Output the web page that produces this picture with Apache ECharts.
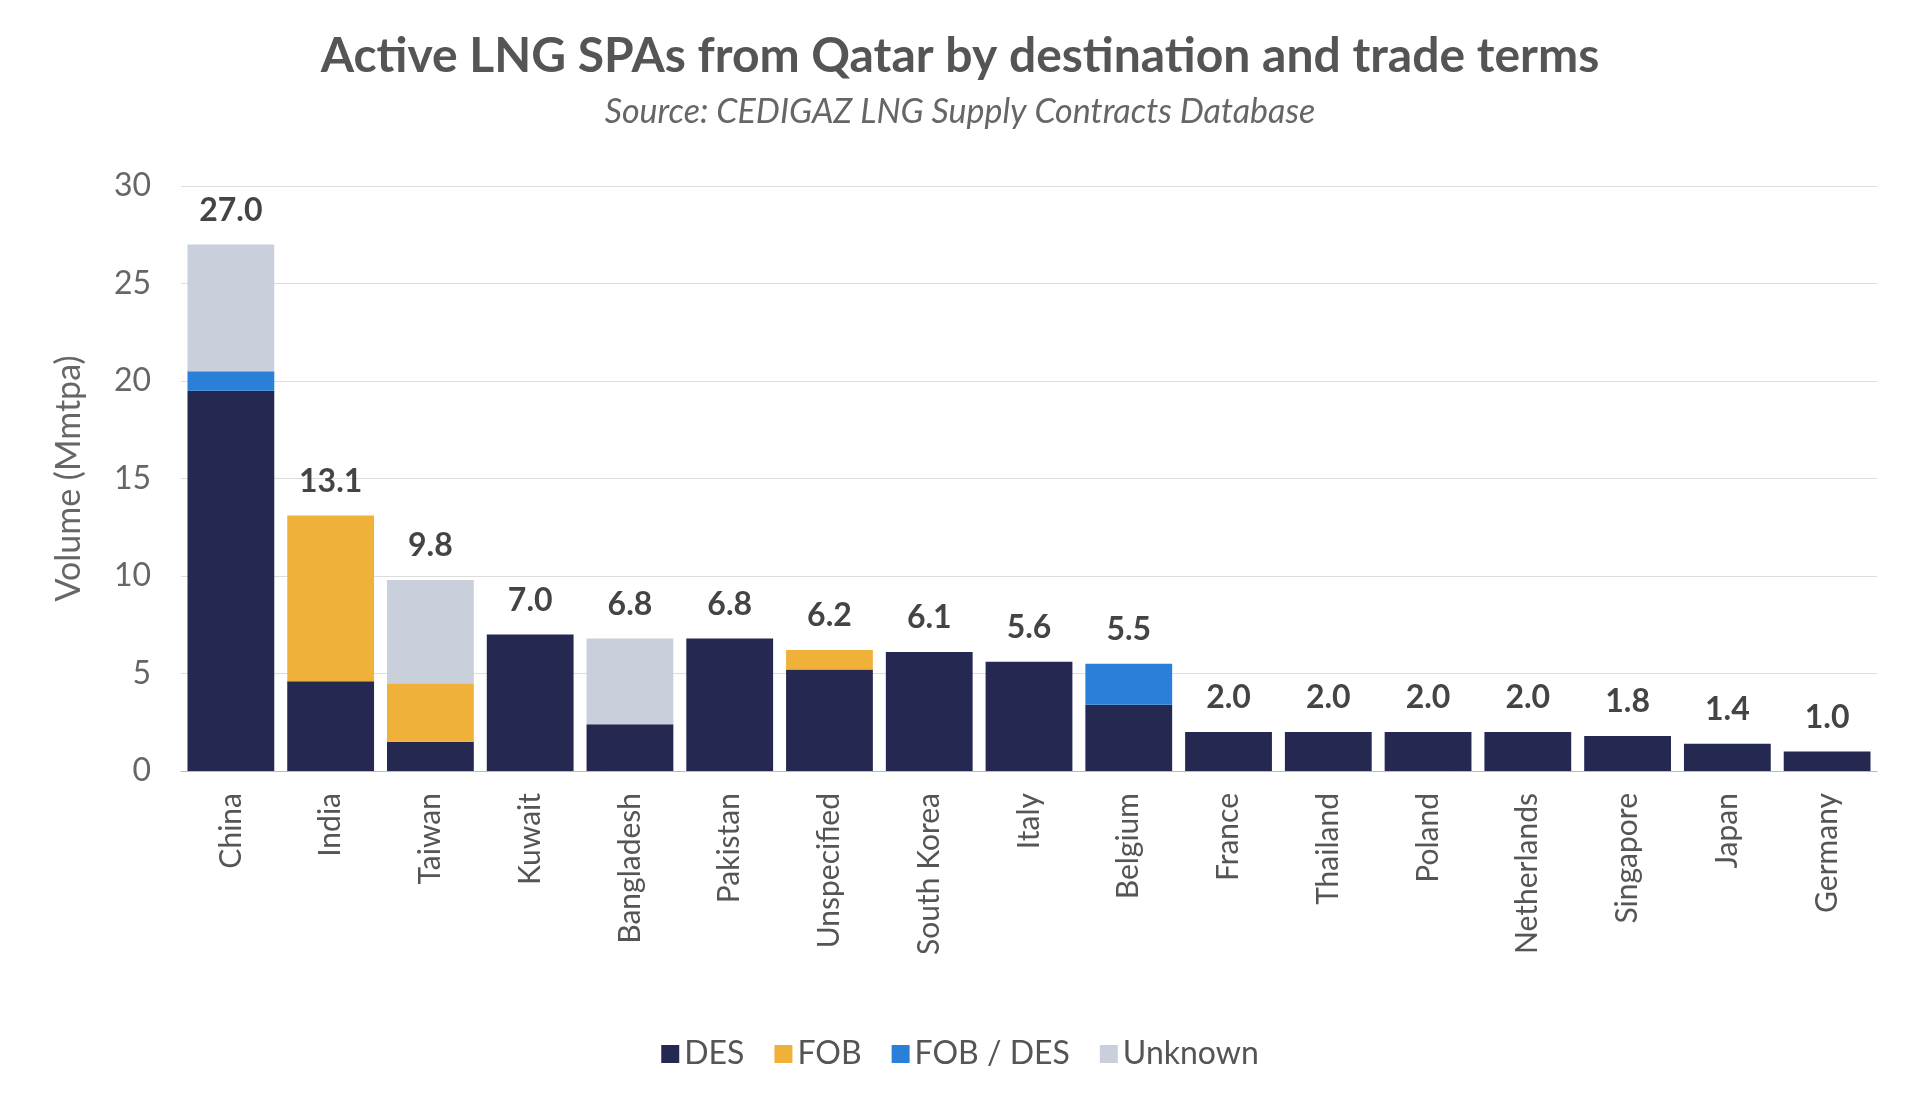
<!DOCTYPE html>
<html><head><meta charset="utf-8">
<script src="https://cdn.jsdelivr.net/npm/echarts@6/dist/echarts.min.js"></script>
<style>html,body{margin:0;padding:0;background:#fff}#c{width:1920px;height:1097px}</style>
</head><body><div id="c"></div>
<script>
const categories=["China","India","Taiwan","Kuwait","Bangladesh","Pakistan","Unspecified","South Korea","Italy","Belgium","France","Thailand","Poland","Netherlands","Singapore","Japan","Germany"];
const des=[19.5,4.6,1.5,7.0,2.4,6.8,5.2,6.1,5.6,3.4,2.0,2.0,2.0,2.0,1.8,1.4,1.0];
const fob=[0,8.5,3.0,0,0,0,1.0,0,0,0,0,0,0,0,0,0,0];
const fobdes=[1.0,0,0,0,0,0,0,0,0,2.1,0,0,0,0,0,0,0];
const unknown=[6.5,0,5.3,0,4.4,0,0,0,0,0,0,0,0,0,0,0,0];
const totals=[27.0,13.1,9.8,7.0,6.8,6.8,6.2,6.1,5.6,5.5,2.0,2.0,2.0,2.0,1.8,1.4,1.0];
const yTicks=[0,5,10,15,20,25,30];
const F='Lato, "Noto Sans", sans-serif';
const chart=echarts.init(document.getElementById('c'));
const mk=(name,data,color)=>({name,type:'bar',stack:'s',data,itemStyle:{color},barCategoryGap:'13%'});
chart.setOption({
 animation:false,
 title:{text:'Active LNG SPAs from Qatar by destination and trade terms',subtext:'Source: CEDIGAZ LNG Supply Contracts Database',left:'center',top:28,
  textStyle:{fontFamily:F,fontSize:48,fontWeight:'bold',color:'#555'},
  subtextStyle:{fontFamily:F,fontSize:34,fontStyle:'italic',color:'#666'},itemGap:14},
 legend:{bottom:22,left:'center',itemWidth:18,itemHeight:18,itemGap:30,icon:'rect',
  textStyle:{fontFamily:F,fontSize:32,color:'#555'},data:['DES','FOB','FOB / DES','Unknown']},
 grid:{left:181,right:43,top:186,bottom:326},
 xAxis:{type:'category',data:categories,axisTick:{show:false},axisLine:{lineStyle:{color:'#bbb'}},
  axisLabel:{rotate:90,fontFamily:F,fontSize:30,color:'#555',margin:22}},
 yAxis:{type:'value',min:0,max:30,interval:5,name:'Volume (Mmtpa)',nameLocation:'middle',nameGap:95,
  nameTextStyle:{fontFamily:F,fontSize:34,color:'#666'},
  axisLabel:{fontFamily:F,fontSize:32,color:'#666',margin:30,formatter:v=>yTicks.includes(v)?String(v):''},
  splitLine:{lineStyle:{color:'#ddd'}}},
 series:[mk('DES',des,'#252850'),mk('FOB',fob,'#f0b13a'),mk('FOB / DES',fobdes,'#2a80d8'),mk('Unknown',unknown,'#c9cfdb'),
  {name:'total',type:'bar',stack:'s',data:totals.map(()=>0),itemStyle:{color:'transparent'},
   label:{show:true,position:'top',distance:18,formatter:p=>totals[p.dataIndex].toFixed(1),fontFamily:F,fontSize:32,fontWeight:'bold',color:'#444'}}]
});
</script></body></html>
